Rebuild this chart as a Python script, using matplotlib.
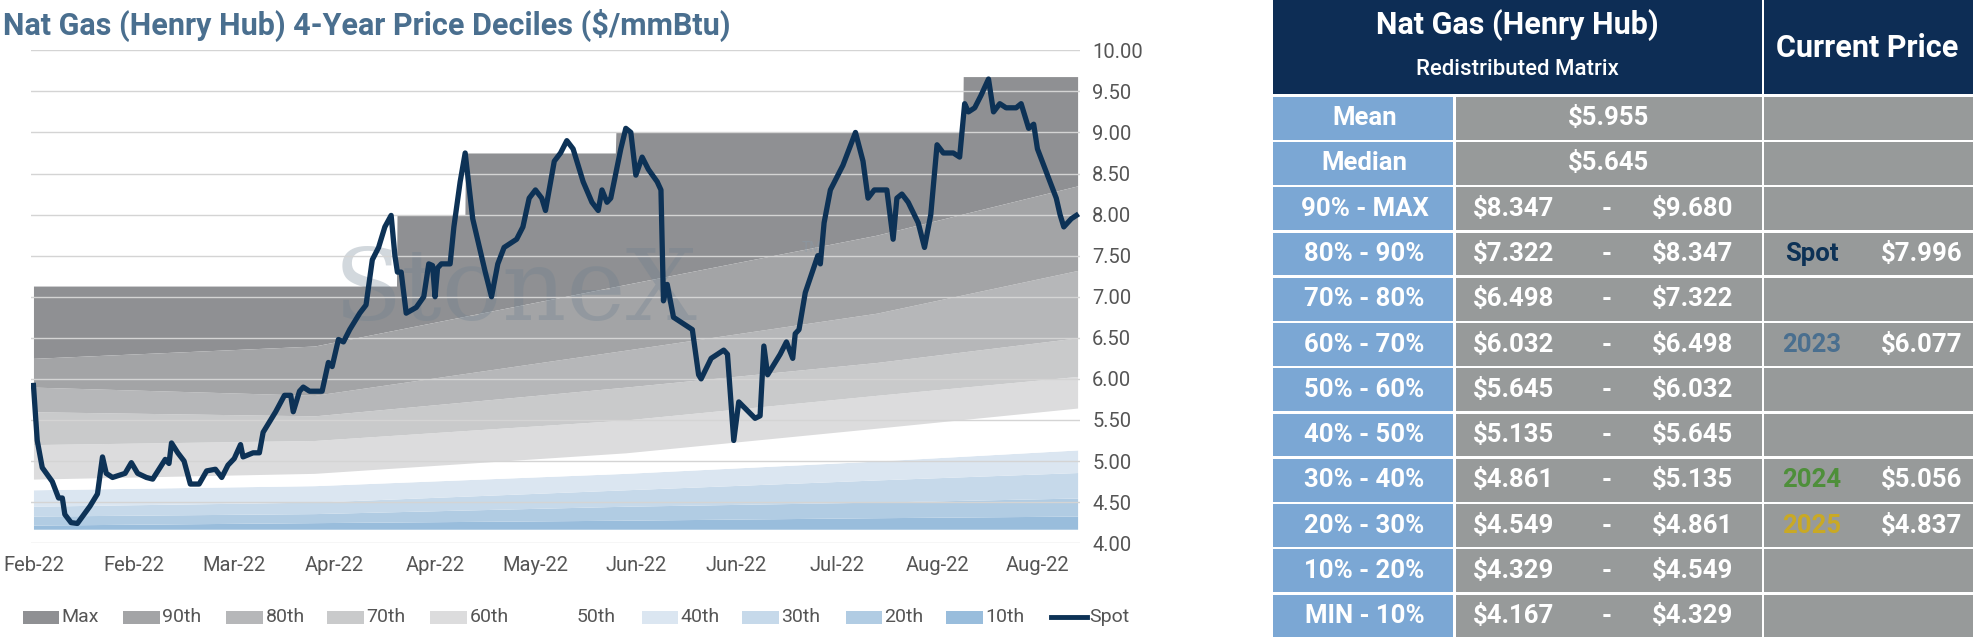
import numpy as np
import matplotlib.pyplot as plt
from matplotlib.patches import Rectangle

plt.rcParams['font.family'] = ['Roboto', 'DejaVu Sans']

# ---------------------------------------------------------------------------
# DATA
# ---------------------------------------------------------------------------
tick_labels = ["Feb-22", "Feb-22", "Mar-22", "Apr-22", "Apr-22", "May-22",
               "Jun-22", "Jun-22", "Jul-22", "Aug-22", "Aug-22"]
tick_pos = [0, 10, 20, 30, 40, 50, 60, 70, 80, 90, 100]

# decile curves (trading-day index -> $/mmBtu)
band_x = [0, 28, 59, 84, 104]
p_min = [4.17, 4.17, 4.17, 4.17, 4.17]
p10 = [4.22, 4.25, 4.28, 4.31, 4.33]
p20 = [4.33, 4.36, 4.45, 4.50, 4.55]
p30 = [4.45, 4.50, 4.65, 4.77, 4.86]
p40 = [4.65, 4.70, 4.85, 5.00, 5.135]
p50 = [4.78, 4.85, 5.10, 5.40, 5.645]
p60 = [5.20, 5.25, 5.50, 5.80, 6.03]
p70 = [5.60, 5.55, 5.90, 6.20, 6.50]
p80 = [5.90, 5.80, 6.35, 6.80, 7.32]
p90 = [6.25, 6.40, 7.15, 7.75, 8.35]

# running max (step)
max_x = [0, 36.2, 36.2, 43, 43, 58, 58, 92.6, 92.6, 104]
max_y = [7.13, 7.13, 8.00, 8.00, 8.75, 8.75, 9.00, 9.00, 9.68, 9.68]

spot_px = [25, 28, 32, 40, 45, 48, 50, 55, 60, 70, 76, 80, 83, 88, 98, 103, 108,
           115, 120, 125, 130, 133, 135, 140, 145, 150, 157, 163, 170, 175, 180,
           185, 190, 192, 200, 205, 208, 212, 218, 225, 230, 232, 237, 240, 245,
           255, 260, 263, 268, 272, 277, 285, 290, 295, 300, 305, 310, 313, 315,
           318, 322, 330, 336, 340, 343, 345, 347, 350, 357, 360, 365, 369, 375,
           385, 390, 395, 400, 405, 410, 415, 420, 425, 430, 433, 440, 445, 450,
           455, 463, 470, 475, 478, 482, 485, 493, 497, 501, 505, 510, 515, 522,
           525, 527, 530, 535, 545, 550, 555, 557, 565, 575, 578, 583, 587, 600,
           604, 607, 610, 620, 625, 630, 632, 635, 640, 650, 652, 655, 660, 670,
           675, 680, 686, 690, 695, 705, 710, 713, 717, 722, 730, 735, 740, 745,
           750, 758, 763, 767, 770, 775, 780, 786, 790, 795, 800, 808, 812, 818,
           822, 825, 830, 840, 843, 846, 852, 856]
spot_y = [5.92, 5.25, 4.92, 4.75, 4.55, 4.55, 4.35, 4.25, 4.24, 4.45, 4.60, 5.05,
          4.85, 4.80, 4.85, 4.98, 4.85, 4.80, 4.78, 4.90, 5.02, 4.97, 5.22, 5.10,
          5.00, 4.72, 4.72, 4.88, 4.90, 4.80, 4.95, 5.03, 5.20, 5.05, 5.10, 5.10,
          5.35, 5.45, 5.60, 5.80, 5.80, 5.60, 5.85, 5.90, 5.85, 5.85, 6.20, 6.15,
          6.48, 6.45, 6.60, 6.80, 6.90, 7.45, 7.60, 7.85, 7.99, 7.50, 7.30, 7.30,
          6.80, 6.87, 7.00, 7.40, 7.38, 7.00, 7.35, 7.40, 7.40, 7.85, 8.40, 8.75,
          7.95, 7.30, 7.00, 7.40, 7.60, 7.65, 7.70, 7.85, 8.20, 8.30, 8.20, 8.05,
          8.65, 8.75, 8.90, 8.80, 8.40, 8.15, 8.05, 8.30, 8.15, 8.20, 8.80, 9.05,
          9.00, 8.48, 8.70, 8.55, 8.40, 8.30, 6.95, 7.15, 6.75, 6.65, 6.60, 6.05,
          6.00, 6.25, 6.35, 6.30, 5.25, 5.72, 5.52, 5.55, 6.40, 6.05, 6.30, 6.45,
          6.25, 6.55, 6.60, 7.05, 7.50, 7.40, 7.90, 8.30, 8.60, 8.80, 9.00, 8.65,
          8.20, 8.30, 8.30, 7.70, 8.20, 8.25, 8.15, 7.90, 7.60, 8.00, 8.85, 8.75,
          8.75, 8.70, 9.35, 9.25, 9.30, 9.45, 9.65, 9.25, 9.35, 9.30, 9.30, 9.35,
          9.05, 9.10, 8.80, 8.60, 8.20, 8.00, 7.85, 7.95, 7.99]
spot_x = [(p - 25) / 8.0 for p in spot_px]

legend_names = ["Max", "90th", "80th", "70th", "60th", "50th", "40th", "30th", "20th", "10th"]
band_colors = ["#8f9093", "#a3a4a6", "#b6b7b9", "#c9cacb", "#dcdcdd", "#ffffff",
               "#dbe6f1", "#c6d9ea", "#b1cce3", "#99bddc"]

# table
row_labels = ["Mean", "Median", "90% - MAX", "80% - 90%", "70% - 80%", "60% - 70%",
              "50% - 60%", "40% - 50%", "30% - 40%", "20% - 30%", "10% - 20%", "MIN - 10%"]
row_lo = ["$5.955", "$5.645", "$8.347", "$7.322", "$6.498", "$6.032", "$5.645",
          "$5.135", "$4.861", "$4.549", "$4.329", "$4.167"]
row_hi = [None, None, "$9.680", "$8.347", "$7.322", "$6.498", "$6.032", "$5.645",
          "$5.135", "$4.861", "$4.549", "$4.329"]
current = {3: ("Spot", "#0d3256", "$7.996"), 5: ("2023", "#4a6f8f", "$6.077"),
           8: ("2024", "#4e8f3a", "$5.056"), 9: ("2025", "#c9a925", "$4.837")}

# ---------------------------------------------------------------------------
# PLOT
# ---------------------------------------------------------------------------
W, H = 1568, 509
fig = plt.figure(figsize=(19.73, 6.40), dpi=100)

ax = fig.add_axes([25 / W, 1 - 432 / H, (858 - 25) / W, (432 - 40) / H])
xs = np.linspace(0, 104, 2000)
stack = [p_min, p10, p20, p30, p40, p50, p60, p70, p80, p90]
ax.fill_between(xs, np.interp(xs, band_x, p90), np.interp(xs, max_x, max_y),
                color=band_colors[0], lw=0, zorder=1)
for k in range(9):
    lo = np.interp(xs, band_x, stack[k])
    hi = np.interp(xs, band_x, stack[k + 1])
    ax.fill_between(xs, lo, hi, color=band_colors[9 - k], lw=0, zorder=1)

ax.text(48, 7.05, "StoneX", fontsize=72, family="DejaVu Serif", color="#6b7f8f",
        alpha=0.3, ha="center", va="center", zorder=2)
ax.text(76.5, 7.55, "TM", fontsize=10, color="#8a9aa8", alpha=0.5, zorder=2)

ax.plot(spot_x, spot_y, color="#0d3256", lw=3.8, zorder=4)

ax.set_xlim(-0.2, 104.2)
ax.set_ylim(4.0, 10.0)
ax.set_yticks(np.arange(4.0, 10.01, 0.5))
ax.set_yticklabels([f"{v:.2f}" for v in np.arange(4.0, 10.01, 0.5)])
ax.yaxis.tick_right()
ax.set_xticks(tick_pos)
ax.set_xticklabels(tick_labels)
ax.tick_params(length=0, labelsize=14.5, colors="#555555", pad=9)
ax.grid(axis="y", color="#d4d4d4", lw=1, zorder=3)
ax.set_axisbelow(False)
for s in ax.spines.values():
    s.set_visible(False)

fig.text(2 / W, 1 - 20 / H, "Nat Gas (Henry Hub) 4-Year Price Deciles ($/mmBtu)",
         fontsize=22, fontweight="bold", color="#4a6f8f", va="center")

# legend row
ov = fig.add_axes([0, 0, 1, 1])
ov.set_xlim(0, W)
ov.set_ylim(H, 0)
ov.axis("off")
leg_x = [18, 98, 180, 260, 342, 428, 510, 590, 672, 752]
for name, col, lx in zip(legend_names, band_colors, leg_x):
    if name != "50th":
        ov.add_patch(Rectangle((lx, 486), 29, 10, color=col, lw=0))
    ov.text(lx + 31 if name != "50th" else lx + 30, 491, name, fontsize=14,
            color="#555555", va="center")
ov.plot([835, 864], [491, 491], color="#0d3256", lw=3.5)
ov.text(866, 491, "Spot", fontsize=14, color="#555555", va="center")

# table
navy = "#0d2d55"
blue = "#7ba7d4"
grey = "#979a9a"
c0, c1, c2, c3 = 1012, 1157, 1400, 1568
ov.add_patch(Rectangle((c0, 0), c2 - c0, 75, color=navy, lw=0))
ov.add_patch(Rectangle((c2 + 2, 0), c3 - c2 - 2, 75, color=navy, lw=0))
ov.text((c0 + c2) / 2, 20, "Nat Gas (Henry Hub)", fontsize=22, fontweight="bold",
        color="white", ha="center", va="center")
ov.text((c0 + c2) / 2, 55, "Redistributed Matrix", fontsize=16, fontweight="medium",
        color="white", ha="center", va="center")
ov.text((c2 + c3) / 2, 38, "Current Price", fontsize=22, fontweight="bold",
        color="white", ha="center", va="center")
top = 77
rh = 36
for i, lab in enumerate(row_labels):
    y = top + i * rh
    ov.add_patch(Rectangle((c0, y), c1 - c0 - 2, rh - 2, color=blue, lw=0))
    ov.add_patch(Rectangle((c1, y), c2 - c1, rh - 2, color=grey, lw=0))
    ov.add_patch(Rectangle((c2 + 2, y), c3 - c2 - 2, rh - 2, color=grey, lw=0))
    yc = y + (rh - 2) / 2
    ov.text((c0 + c1) / 2, yc, lab, fontsize=18.5, fontweight="bold", color="white",
            ha="center", va="center")
    if row_hi[i] is None:
        ov.text((c1 + c2) / 2, yc, row_lo[i], fontsize=18.5, fontweight="bold",
                color="white", ha="center", va="center")
    else:
        ov.text(1203, yc, row_lo[i], fontsize=18.5, fontweight="bold", color="white",
                ha="center", va="center")
        ov.text(1277, yc, "-", fontsize=18.5, fontweight="bold", color="white",
                ha="center", va="center")
        ov.text(1345, yc, row_hi[i], fontsize=18.5, fontweight="bold", color="white",
                ha="center", va="center")
    if i in current:
        name, col, val = current[i]
        ov.text(1440, yc, name, fontsize=18.5, fontweight="bold", color=col,
                ha="center", va="center")
        ov.text(1527, yc, val, fontsize=18.5, fontweight="bold", color="white",
                ha="center", va="center")

fig.savefig("out.png", dpi=100)
